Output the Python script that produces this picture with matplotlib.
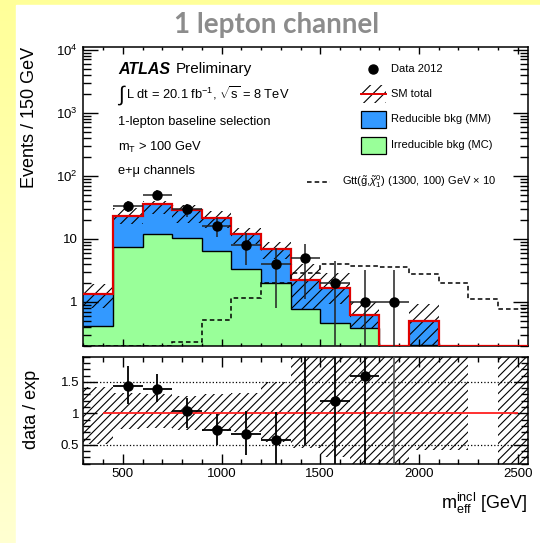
import numpy as np
import matplotlib
matplotlib.use("Agg")
import matplotlib.pyplot as plt
from matplotlib.patches import Rectangle
from matplotlib.lines import Line2D
from matplotlib.ticker import FixedLocator, FixedFormatter, MultipleLocator, LogLocator, NullFormatter

plt.rcParams['font.family'] = ['Liberation Sans', 'DejaVu Sans']
plt.rcParams['mathtext.fontset'] = 'custom'
plt.rcParams['mathtext.rm'] = 'Liberation Sans'
plt.rcParams['mathtext.it'] = 'Liberation Sans:italic'
plt.rcParams['mathtext.bf'] = 'Liberation Sans:bold'
plt.rcParams['hatch.linewidth'] = 0.8

# m_eff binning, 150 GeV per bin
bin_edges = [300, 450, 600, 750, 900, 1050, 1200, 1350, 1500, 1650, 1800, 1950, 2100, 2250, 2400, 2550]
irreducible = [0.41, 7.55, 11.9, 10.3, 6.45, 3.38, 2.02, 0.78, 0.47, 0.39, 0, 0.21, 0, 0, 0]
reducible = [0.91, 15.55, 24.3, 18.8, 15.15, 8.42, 4.98, 1.43, 1.2, 0.235, 0, 0.28, 0, 0, 0]
signal_x10 = [0, 0, 0, 0.23, 0.51, 1.15, 1.98, 2.9, 3.97, 3.73, 3.6, 2.8, 2.02, 1.13, 0.77]

# SM uncertainty band (absolute, top panel) and relative band (ratio panel)
band_low = [0.8, 17.1, 24.7, 18.1, 15.0, 8.2, 4.75, 0.75, 0.94, 0.39, np.nan, 0.2, np.nan, np.nan, np.nan]
band_high = [1.95, 30.7, 40.0, 34.7, 28.0, 15.0, 8.95, 4.0, 2.9, 1.0, np.nan, 0.93, np.nan, np.nan, np.nan]
ratio_band_low = [0.52, 0.75, 0.76, 0.74, 0.72, 0.70, 0.55, 0.45, 0.30, 0.0, 0.0, 0.42, 0.42, np.nan, 0.0]
ratio_band_high = [1.42, 1.32, 1.30, 1.28, 1.30, 1.33, 1.50, 2.0, 2.0, 2.0, 2.0, 2.0, 2.0, np.nan, 2.0]

# data 2012
data_x = [525, 675, 825, 975, 1125, 1275, 1425, 1575, 1725, 1875]
data_n = [33, 50, 30, 16, 8, 4, 5, 2, 1, 1]
data_low = [26.5, 43, 22.5, 10.8, 3.9, 0.8, 1.1, 0, 0, 0]
data_high = [40.5, 59, 36, 21.5, 12.2, 7.1, 8.3, 4.4, 3.2, 3.2]

YMIN, YMAX = 0.2, 1.1e4
W, H = 540, 543

edges = np.array(bin_edges, float)
irr = np.array(irreducible)
total = irr + np.array(reducible)
sig = np.array(signal_x10)
dx = np.array(data_x, float)
dn = np.array(data_n, float)
dlo = np.array(data_low, float)
dhi = np.array(data_high, float)


def fx(x):
    return x / W


def fy(y):
    return 1 - y / H


fig = plt.figure(figsize=(W / 100, H / 100), dpi=100)

# page background: pale yellow gradient with a white sheet
bg = fig.add_axes([0, 0, 1, 1], zorder=-10)
grad = np.linspace(0, 1, 256)
img = np.ones((256, 1, 3))
img[:, 0, 2] = 0.6 + 0.22 * grad
bg.imshow(img, aspect='auto', extent=[0, 1, 0, 1])
bg.add_patch(Rectangle((fx(16), 0), 1, fy(5), color='white', transform=bg.transAxes))
bg.set_xlim(0, 1)
bg.set_ylim(0, 1)
bg.set_axis_off()

fig.text(fx(277), fy(33), '1 lepton channel', ha='center', va='baseline',
         fontsize=20, weight='bold', color='#8c8c8c', family=['Lato', 'DejaVu Sans'])

# ---- main panel ----
ax = fig.add_axes([0.1543, 0.3628, 0.8227, 0.5506])
ax.set_yscale('log')
ax.set_xlim(300, 2550)
ax.set_ylim(YMIN, YMAX)

irr_p = np.maximum(irr, YMIN)
tot_p = np.maximum(total, YMIN)
ax.stairs(irr_p, edges, baseline=YMIN * 0.5, fill=True, color='#99ff99', lw=0, zorder=1)
ax.stairs(tot_p, edges, baseline=irr_p, fill=True, color='#3399ff', lw=0, zorder=1.1)

ok = ~np.isnan(np.array(band_low))
blo = np.array(band_low)[ok]
bhi = np.array(band_high)[ok]
ax.bar(edges[:-1][ok], bhi - blo, bottom=blo, width=150, align='edge', fill=False,
       hatch='///', edgecolor='k', lw=0, zorder=2)

ax.stairs(irr_p, edges, baseline=None, color='k', lw=1.0, zorder=3)
ax.stairs(tot_p, edges, baseline=None, color='#e00000', lw=1.6, zorder=3.2)
ax.stairs(np.maximum(sig, YMIN), edges, baseline=None, color='k', lw=1.1,
          ls=(0, (3, 2)), zorder=3.5)

ax.errorbar(dx, dn, yerr=[dn - np.maximum(dlo, 0.05), dhi - dn], xerr=75, fmt='o',
            color='k', ecolor='#222222', ms=6.5, elinewidth=1.1, capsize=0, zorder=5)

ax.xaxis.set_major_locator(MultipleLocator(500))
ax.xaxis.set_minor_locator(MultipleLocator(100))
ax.yaxis.set_major_locator(FixedLocator([1, 10, 100, 1000, 10000]))
ax.yaxis.set_major_formatter(FixedFormatter(['1', '10', '$10^2$', '$10^3$', '$10^4$']))
ax.yaxis.set_minor_locator(LogLocator(base=10, subs=np.arange(2, 10)))
ax.yaxis.set_minor_formatter(NullFormatter())
ax.tick_params(which='both', direction='in', top=True, right=True, width=1)
ax.tick_params(axis='y', which='major', length=11, labelsize=9.5, pad=4)
ax.tick_params(axis='y', which='minor', length=5.5)
ax.tick_params(axis='x', which='major', length=5)
ax.tick_params(axis='x', which='minor', length=2.5)
ax.tick_params(labelbottom=False)
for s in ax.spines.values():
    s.set_linewidth(1.1)

fig.text(fx(30), fy(117), 'Events / 150 GeV', rotation=90, ha='center', va='center', fontsize=13)

# labels
fig.text(fx(118), fy(69), 'ATLAS', fontsize=11.5, weight='bold', style='italic', va='center')
fig.text(fx(176), fy(69), 'Preliminary', fontsize=11, va='center')
fig.text(fx(117), fy(95), r'$\int$', fontsize=15, va='center')
fig.text(fx(126), fy(93), r'L dt = 20.1 fb$^{-1}$, $\sqrt{\rm s}$ = 8 TeV', fontsize=9.3, va='center')
fig.text(fx(118), fy(122), '1-lepton baseline selection', fontsize=9.3, va='center')
fig.text(fx(118), fy(147), r'm$_{\rm T}$ > 100 GeV', fontsize=9.3, va='center')
fig.text(fx(118), fy(171), 'e+\u03bc channels', fontsize=9.3, va='center')

# legend
fig.add_artist(Line2D([fx(373)], [fy(69)], marker='o', color='k', ms=6.5, transform=fig.transFigure))
fig.text(fx(391), fy(69), 'Data 2012', fontsize=8, va='center')
fig.add_artist(Rectangle((fx(361), fy(102.7)), fx(25), 17.7 / H, fill=False, hatch='///',
                         edgecolor='k', lw=0, transform=fig.transFigure))
fig.add_artist(Line2D([fx(361), fx(386)], [fy(94), fy(94)], color='#e00000', lw=1.4,
                      transform=fig.transFigure))
fig.text(fx(391), fy(94), 'SM total', fontsize=8, va='center')
fig.add_artist(Rectangle((fx(361), fy(128.3)), fx(25), 17.6 / H, facecolor='#3399ff',
                         edgecolor='k', lw=0.9, transform=fig.transFigure))
fig.text(fx(391), fy(119.5), 'Reducible bkg (MM)', fontsize=8, va='center')
fig.add_artist(Rectangle((fx(361), fy(154.3)), fx(25), 17.6 / H, facecolor='#99ff99',
                         edgecolor='k', lw=0.9, transform=fig.transFigure))
fig.text(fx(391), fy(145.5), 'Irreducible bkg (MC)', fontsize=8, va='center')
fig.add_artist(Line2D([fx(307), fx(330)], [fy(182.3), fy(182.3)], color='k', lw=1.1,
                      ls=(0, (3, 2)), transform=fig.transFigure))
fig.text(fx(342), fy(182), r'Gtt($\tilde{\rm g}$,$\tilde{\chi}^{0}_{1}$) (1300, 100) GeV $\times$ 10',
         fontsize=8, va='center')

# ---- ratio panel ----
ax2 = fig.add_axes([0.1543, 0.1449, 0.8227, 0.1982])
ax2.set_xlim(300, 2550)
ax2.set_ylim(0.19, 1.9)

rlo = np.array(ratio_band_low)
rhi = np.array(ratio_band_high)
ok2 = ~np.isnan(rlo)
ax2.bar(edges[:-1][ok2], (rhi - rlo)[ok2], bottom=rlo[ok2], width=150, align='edge',
        fill=False, hatch='////', edgecolor='k', lw=0, zorder=1)
for yl in (0.5, 1.5):
    ax2.axhline(yl, color='k', ls=':', lw=0.9, zorder=2)
ax2.hlines(1, 400, 2500, color='#ff2020', lw=1.3, zorder=2.5)

mc = total[1:11]
fin = mc > 0
ratio = np.divide(dn, mc, out=np.full_like(dn, np.inf), where=fin)
r_lo = np.divide(dn - dlo, mc, out=np.zeros_like(dn), where=fin)
r_hi = np.divide(dhi - dn, mc, out=np.zeros_like(dn), where=fin)
ax2.errorbar(dx[fin], ratio[fin], yerr=[r_lo[fin], r_hi[fin]], xerr=75, fmt='o', color='k',
             ms=6.5, elinewidth=1.3, capsize=0, zorder=5)
for xv in dx[~fin]:
    ax2.axvline(xv, color='#555555', lw=1.2, zorder=4)

ax2.xaxis.set_major_locator(MultipleLocator(500))
ax2.xaxis.set_minor_locator(MultipleLocator(100))
ax2.yaxis.set_major_locator(FixedLocator([0.5, 1, 1.5]))
ax2.yaxis.set_major_formatter(FixedFormatter(['0.5', '1', '1.5']))
ax2.yaxis.set_minor_locator(MultipleLocator(0.1))
ax2.tick_params(which='both', direction='in', top=True, right=True, width=1)
ax2.tick_params(axis='y', which='major', length=10, labelsize=9.5, pad=3)
ax2.tick_params(axis='y', which='minor', length=5)
ax2.tick_params(axis='x', which='major', length=7, labelsize=9.5, pad=3)
ax2.tick_params(axis='x', which='minor', length=3.5)
for s in ax2.spines.values():
    s.set_linewidth(1.1)

fig.text(fx(31), fy(409), 'data / exp', rotation=90, ha='center', va='center', fontsize=13)
fig.text(fx(527), fy(503), r'm$_{\rm eff}^{\rm incl}$ [GeV]', ha='right', va='center', fontsize=13)

fig.savefig('out.png', dpi=100)
